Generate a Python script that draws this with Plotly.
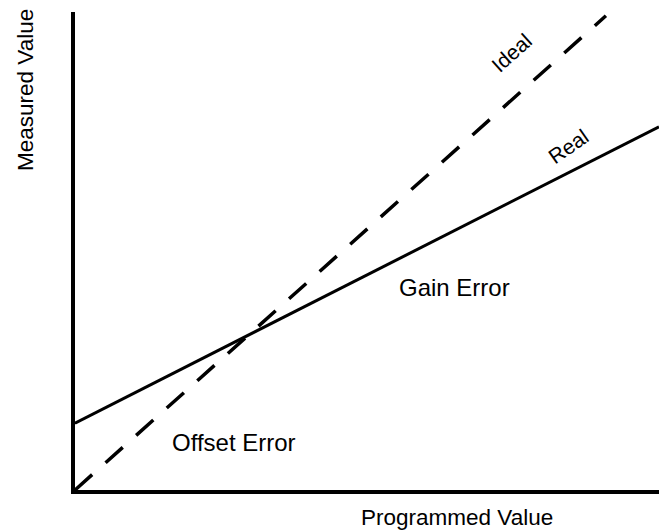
import plotly.graph_objects as go

# Programmed vs. measured transfer characteristic
ideal_x = [0, 10]
ideal_y = [0, 10]

real_x = [0, 11]
real_y = [1.41, 7.66]

x_range = [0, 11]
y_range = [0, 10.08]

# Figure geometry (pixels)
FIG_W, FIG_H = 659, 531
M_L, M_R, M_T, M_B = 75, 0, 12, 41
PLOT_W = FIG_W - M_L - M_R
PLOT_H = FIG_H - M_T - M_B


def paper_x(px):
    return (px - M_L) / PLOT_W


def paper_y(py):
    return (FIG_H - M_B - py) / PLOT_H


FONT = "Arial, Liberation Sans, sans-serif"

fig = go.Figure()

fig.add_trace(go.Scatter(
    x=ideal_x, y=ideal_y, mode="lines",
    line=dict(color="black", width=3.5, dash="23px,18px"),
    hoverinfo="skip", showlegend=False,
))
fig.add_trace(go.Scatter(
    x=real_x, y=real_y, mode="lines",
    line=dict(color="black", width=3),
    hoverinfo="skip", showlegend=False,
))

annotations = [
    dict(text="Ideal", x=8.23, y=9.22, xref="x", yref="y", textangle=-42,
         font=dict(size=21)),
    dict(text="Real", x=9.29, y=7.24, xref="x", yref="y", textangle=-35,
         font=dict(size=21)),
    dict(text="Gain Error", x=7.14, y=4.26, xref="x", yref="y",
         font=dict(size=24)),
    dict(text="Offset Error", x=3.0, y=1.01, xref="x", yref="y",
         font=dict(size=24)),
    dict(text="Programmed Value", x=paper_x(457), y=paper_y(517),
         xref="paper", yref="paper", font=dict(size=22.5)),
    dict(text="Measured Value", x=paper_x(25), y=paper_y(90),
         xref="paper", yref="paper", textangle=-90, font=dict(size=22.5)),
]
for a in annotations:
    a.update(showarrow=False, xanchor="center", yanchor="middle")
    a["font"].update(family=FONT, color="black")

fig.update_layout(
    width=FIG_W, height=FIG_H,
    margin=dict(l=M_L, r=M_R, t=M_T, b=M_B, pad=0),
    paper_bgcolor="white", plot_bgcolor="white",
    annotations=annotations,
    font=dict(family=FONT, color="black"),
)
fig.update_xaxes(range=x_range, showgrid=False, zeroline=False,
                 showticklabels=False, ticks="", showline=True,
                 linecolor="black", linewidth=4, fixedrange=True)
fig.update_yaxes(range=y_range, showgrid=False, zeroline=False,
                 showticklabels=False, ticks="", showline=True,
                 linecolor="black", linewidth=4, fixedrange=True)

fig.write_html("out.html", config={"displayModeBar": False})
